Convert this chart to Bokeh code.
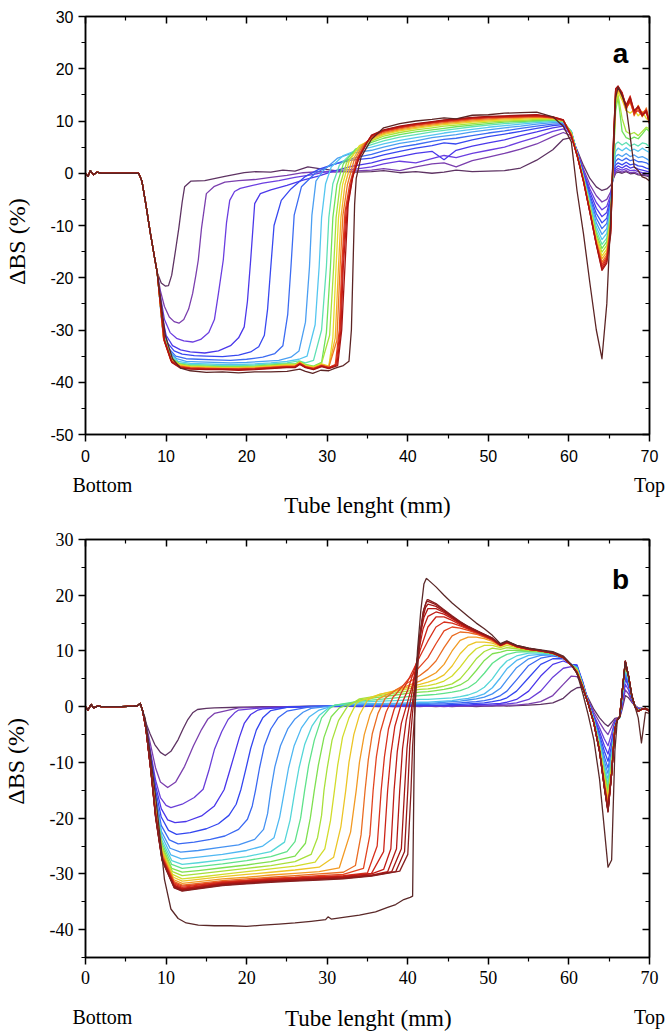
import math
from bokeh.plotting import figure
from bokeh.layouts import column
from bokeh.models import Range1d, FixedTicker, LinearAxis, Label
from bokeh.embed import file_html
from bokeh.resources import INLINE

# ---------------- common axis values ----------------
X_TICKS = [0, 10, 20, 30, 40, 50, 60, 70]
X_MINOR = [5, 15, 25, 35, 45, 55, 65]
A_Y_TICKS = [-50, -40, -30, -20, -10, 0, 10, 20, 30]
A_Y_MINOR = [-45, -35, -25, -15, -5, 5, 15, 25]
B_Y_TICKS = [-40, -30, -20, -10, 0, 10, 20, 30]
B_Y_MINOR = [-45, -35, -25, -15, -5, 5, 15, 25]
END_TEXT_POS = [2.1, 70]
END_TEXT = ["Bottom", "Top"]
X_TITLE_POS = 35.1
X_TITLE = "Tube lenght (mm)"
Y_TITLE = "ΔBS (%)"

# ---------------- panel a ----------------
A_COLORS = ["#5e3363", "#7b3fae", "#6b3ee0", "#4b38ea", "#3848f0", "#3d6cf2", "#4b9ff2",
            "#55c6f0", "#5fe0b5", "#6fe25a", "#a8e33a", "#e6dc2a", "#f2b127", "#ee7a22",
            "#e2421e", "#d52a1a", "#c41c16", "#a81412", "#5c2424"]

A_START_X = [0, 0.3, 0.6, 1.0, 1.4, 2.0, 3.0, 4.5, 6.0, 6.6, 7.0, 7.5, 8.0, 8.5, 8.9]
A_START_Y = [0, -0.6, 0.5, -0.3, 0.2, 0, 0, 0, 0, 0, -1.5, -6.0, -11.0, -15.5, -19.0]

A_LOW_X = [
    [9.4, 9.9, 10.3, 10.7, 11.2, 11.6, 12.0, 12.3, 13.1, 14.8, 17.3, 19.7, 21.1, 23.0, 24.5, 26.0, 27.6, 29.0, 30.5, 32.0, 33.5],
    [9.3, 9.8, 10.4, 11.0, 11.6, 12.2, 12.8, 13.3, 13.7, 14.0, 14.4, 15.0, 16.0, 17.3, 19.0, 21.0, 23.0, 25.0, 27.0, 29.0, 31.0, 33.0],
    [9.3, 9.8, 10.5, 11.3, 12.2, 13.3, 14.3, 15.3, 16.0, 16.5, 17.1, 17.5, 17.9, 18.5, 19.2, 20.5, 22.0, 24.0, 26.0, 28.0, 30.0, 32.0, 33.5],
    [9.4, 10.0, 10.8, 11.8, 13.0, 14.8, 16.5, 18.0, 19.0, 19.7, 20.1, 20.5, 21.0, 21.7, 23.0, 25.0, 27.0, 29.0, 31.0, 33.0],
    [9.5, 10.2, 11.0, 12.0, 13.5, 15.0, 17.0, 19.0, 20.5, 21.5, 22.2, 22.6, 23.0, 23.4, 24.3, 25.5, 27.2, 29.0, 31.0, 33.0],
    [9.5, 10.3, 11.2, 12.5, 14.0, 16.0, 18.0, 20.0, 22.0, 23.5, 24.5, 25.1, 25.5, 25.9, 26.8, 28.5, 30.0, 32.0, 33.5],
    [9.6, 10.4, 11.3, 12.5, 14.0, 16.0, 18.0, 20.0, 22.0, 24.0, 25.5, 26.5, 27.3, 27.8, 28.1, 28.6, 29.5, 31.3, 33.0],
    [9.6, 10.5, 11.5, 13.0, 15.0, 17.0, 19.0, 21.0, 23.0, 25.0, 26.5, 27.5, 28.5, 29.0, 29.3, 29.8, 30.5, 32.0, 33.5],
    [9.7, 10.6, 11.6, 13.0, 15.0, 17.0, 19.0, 21.0, 23.0, 25.0, 26.5, 27.3, 28.3, 29.3, 29.9, 30.2, 30.7, 31.5, 33.0, 34.0],
    [9.7, 10.6, 11.7, 13.0, 15.0, 17.0, 19.0, 21.0, 23.0, 25.0, 26.0, 26.6, 27.3, 28.3, 29.3, 29.9, 30.4, 30.7, 31.2, 32.0, 33.5],
    [9.7, 10.6, 11.7, 13.0, 15.0, 17.0, 19.0, 21.0, 23.0, 25.0, 26.0, 26.6, 27.3, 28.3, 29.3, 30.3, 30.8, 31.1, 31.6, 32.4, 34.0],
    [9.7, 10.6, 11.7, 13.0, 15.0, 17.0, 19.0, 21.0, 23.0, 25.0, 26.0, 26.6, 27.3, 28.3, 29.3, 30.2, 30.7, 31.1, 31.4, 31.9, 32.7, 34.0],
    [9.7, 10.6, 11.7, 13.0, 15.0, 17.0, 19.0, 21.0, 23.0, 25.0, 26.0, 26.6, 27.3, 28.3, 29.3, 30.2, 31.0, 31.4, 31.7, 32.2, 33.0, 34.3],
    [9.7, 10.6, 11.7, 13.0, 15.0, 17.0, 19.0, 21.0, 23.0, 25.0, 26.0, 26.6, 27.3, 28.3, 29.3, 30.2, 31.2, 31.6, 31.95, 32.5, 33.3, 34.5],
    [9.7, 10.6, 11.7, 13.0, 15.0, 17.0, 19.0, 21.0, 23.0, 25.0, 26.0, 26.6, 27.3, 28.3, 29.3, 30.2, 31.0, 31.5, 31.8, 32.2, 32.8, 33.6, 34.7],
    [9.8, 10.7, 11.8, 13.0, 15.0, 17.0, 19.0, 21.0, 23.0, 25.0, 26.0, 26.6, 27.3, 28.3, 29.3, 30.2, 31.1, 31.6, 31.9, 32.35, 33.0, 33.8, 34.8],
    [9.8, 10.7, 11.8, 13.0, 15.0, 17.0, 19.0, 21.0, 23.0, 25.0, 26.0, 26.6, 27.3, 28.3, 29.3, 30.2, 31.2, 31.7, 32.0, 32.5, 33.1, 33.9, 34.9],
    [9.8, 10.7, 11.8, 13.0, 15.0, 17.0, 19.0, 21.0, 23.0, 25.0, 26.0, 26.6, 27.3, 28.3, 29.3, 30.2, 31.3, 31.8, 32.2, 32.6, 33.2, 34.0, 35.0],
    [9.9, 10.8, 11.8, 13.0, 15.0, 17.0, 19.0, 21.0, 23.0, 25.0, 26.6, 27.3, 28.2, 29.2, 30.2, 31.0, 32.0, 32.7, 33.0, 33.2, 33.4, 33.6, 34.2, 35.0],
]
A_LOW_Y = [
    [-21.0, -21.6, -21.5, -19.5, -14.5, -10.3, -5.5, -2.6, -1.5, -1.4, -0.6, 0.1, 0.3, 0.2, 0.6, 0.4, 1.2, 0.9, 0.6, 0.3, 0.2],
    [-22.5, -25.5, -27.5, -28.4, -28.7, -28.0, -26.0, -23.0, -19.5, -16.6, -10.5, -3.9, -2.5, -1.7, -1.4, -1.2, -0.8, -0.4, 0.1, 0.3, 0.2, 0.4],
    [-23.5, -28.0, -30.5, -31.6, -32.1, -32.3, -31.8, -30.5, -28.0, -23.0, -16.6, -9.5, -5.2, -3.5, -2.9, -2.4, -1.9, -1.4, -0.8, -0.3, 0.3, 0.6, 0.8],
    [-26.5, -31.0, -33.0, -33.8, -34.2, -34.4, -34.0, -33.0, -31.5, -29.4, -24.5, -16.6, -5.8, -3.9, -3.2, -2.3, -1.3, -0.5, 0.5, 1.3],
    [-28.5, -32.5, -34.0, -34.6, -34.9, -35.0, -35.1, -34.8, -34.2, -33.2, -31.0, -26.0, -17.9, -10.0, -5.2, -3.0, -0.7, 0.8, 1.8, 2.5],
    [-29.0, -33.5, -35.0, -35.5, -35.6, -35.7, -35.8, -35.6, -35.2, -34.5, -33.0, -27.0, -17.9, -8.0, -2.6, 0.0, 1.2, 2.3, 3.0],
    [-30.0, -34.0, -35.5, -36.0, -36.1, -36.2, -36.3, -36.2, -36.0, -35.8, -35.2, -34.0, -28.5, -17.9, -8.0, -1.5, 0.5, 2.9, 3.8],
    [-30.5, -34.5, -36.0, -36.4, -36.5, -36.6, -36.6, -36.5, -36.3, -36.0, -35.6, -35.0, -29.0, -17.9, -8.5, -2.0, 1.2, 3.4, 4.3],
    [-31.0, -35.0, -36.3, -36.6, -36.7, -36.8, -36.8, -36.7, -36.5, -36.3, -35.9, -36.3, -35.8, -30.0, -17.9, -8.5, -2.0, 1.5, 3.8, 4.7],
    [-31.2, -35.3, -36.5, -36.8, -36.9, -37.0, -37.0, -36.9, -36.7, -36.5, -36.5, -36.0, -36.6, -36.9, -36.2, -30.5, -17.9, -8.5, -2.2, 1.8, 4.6],
    [-31.4, -35.5, -36.6, -36.9, -37.0, -37.1, -37.1, -37.0, -36.8, -36.6, -36.6, -36.1, -36.7, -37.0, -36.4, -31.0, -17.9, -8.5, -2.2, 2.0, 5.2],
    [-31.5, -35.6, -36.7, -37.0, -37.1, -37.2, -37.2, -37.1, -36.9, -36.7, -36.7, -36.2, -36.8, -37.1, -36.5, -36.9, -31.5, -17.9, -8.5, -2.2, 2.2, 5.3],
    [-31.6, -35.7, -36.8, -37.1, -37.2, -37.3, -37.3, -37.2, -37.0, -36.8, -36.8, -36.3, -36.9, -37.2, -36.6, -37.0, -31.5, -17.9, -8.5, -2.2, 2.2, 5.4],
    [-31.7, -35.8, -36.9, -37.2, -37.3, -37.4, -37.4, -37.3, -37.1, -36.9, -36.9, -36.3, -37.0, -37.3, -36.7, -37.1, -32.0, -17.9, -8.0, -2.2, 2.3, 5.5],
    [-31.8, -35.9, -37.0, -37.3, -37.4, -37.4, -37.5, -37.4, -37.2, -37.0, -37.0, -36.4, -37.0, -37.4, -36.8, -37.2, -36.6, -30.0, -17.9, -7.5, -2.0, 2.5, 5.6],
    [-31.9, -36.0, -37.1, -37.3, -37.4, -37.5, -37.5, -37.4, -37.2, -37.0, -37.0, -36.4, -37.1, -37.4, -36.8, -37.2, -36.6, -30.0, -17.9, -7.0, -1.5, 2.8, 5.7],
    [-32.0, -36.1, -37.2, -37.4, -37.5, -37.5, -37.6, -37.5, -37.3, -37.1, -37.1, -36.5, -37.1, -37.5, -36.9, -37.3, -36.7, -30.0, -17.9, -6.5, -1.0, 2.9, 5.8],
    [-32.1, -36.2, -37.3, -37.5, -37.6, -37.6, -37.7, -37.6, -37.4, -37.2, -37.2, -36.6, -37.2, -37.6, -37.0, -37.4, -36.8, -30.0, -17.9, -6.0, -0.5, 3.1, 6.0],
    [-31.0, -35.5, -37.3, -37.8, -38.1, -38.0, -38.2, -38.0, -38.0, -37.9, -37.5, -37.9, -38.3, -37.7, -37.8, -37.3, -36.8, -36.0, -30.0, -18.0, -6.0, -1.0, 3.1, 5.2],
]

A_UP_X = [35.5, 37, 39, 41, 43, 44.5, 46, 48, 50, 52, 54, 56, 58, 59.3]
A_UP_Y = [
    [0.3, 0.5, 0.1, 0.3, 0.0, 0.2, 0.6, 0.3, 0.4, 0.5, 1.0, 2.5, 4.5, 6.5],
    [0.6, 0.9, 0.5, 1.2, 1.8, 2.0, 1.2, 2.4, 3.1, 3.8, 4.6, 5.6, 7.0, 7.8],
    [1.2, 1.8, 2.3, 2.0, 2.8, 3.4, 3.0, 3.8, 4.4, 5.0, 6.0, 6.9, 8.0, 8.5],
    [2.0, 2.6, 3.2, 3.8, 4.2, 2.6, 4.4, 5.2, 5.8, 6.4, 7.2, 7.9, 8.7, 9.0],
    [2.9, 3.5, 4.2, 4.8, 5.3, 5.8, 5.6, 6.4, 7.0, 7.5, 8.0, 8.6, 9.1, 9.3],
    [3.6, 4.3, 5.0, 5.5, 6.1, 6.5, 6.7, 7.2, 7.7, 8.1, 8.6, 9.0, 9.4, 9.5],
    [4.4, 5.0, 5.7, 6.2, 6.8, 7.1, 7.4, 7.9, 8.3, 8.7, 9.0, 9.4, 9.7, 9.7],
    [5.0, 5.6, 6.3, 6.8, 7.3, 7.7, 8.0, 8.4, 8.8, 9.1, 9.4, 9.7, 9.9, 9.8],
    [5.5, 6.2, 6.9, 7.4, 7.9, 8.2, 8.5, 8.9, 9.2, 9.5, 9.7, 9.9, 10.1, 9.9],
    [5.9, 6.7, 7.4, 7.9, 8.3, 8.6, 8.9, 9.2, 9.5, 9.8, 9.9, 10.1, 10.2, 10.0],
    [6.2, 7.1, 7.8, 8.3, 8.7, 9.0, 9.2, 9.5, 9.8, 10.0, 10.1, 10.3, 10.3, 10.0],
    [6.4, 7.4, 8.1, 8.6, 9.0, 9.3, 9.5, 9.8, 10.0, 10.2, 10.3, 10.5, 10.4, 10.1],
    [6.6, 7.6, 8.3, 8.8, 9.2, 9.5, 9.7, 10.0, 10.2, 10.4, 10.5, 10.7, 10.5, 10.1],
    [6.8, 7.8, 8.5, 9.0, 9.4, 9.7, 9.9, 10.2, 10.4, 10.6, 10.7, 10.8, 10.6, 10.1],
    [7.0, 8.0, 8.7, 9.2, 9.6, 9.9, 10.1, 10.4, 10.6, 10.7, 10.8, 10.9, 10.6, 10.1],
    [7.1, 8.1, 8.8, 9.3, 9.7, 10.0, 10.2, 10.5, 10.7, 10.8, 10.9, 11.0, 10.7, 10.1],
    [7.2, 8.2, 8.9, 9.4, 9.8, 10.1, 10.3, 10.6, 10.8, 10.9, 11.0, 11.1, 10.8, 10.2],
    [7.3, 8.3, 9.0, 9.5, 9.9, 10.2, 10.4, 10.7, 10.9, 11.0, 11.1, 11.2, 10.8, 10.2],
    [6.5, 8.7, 9.5, 10.0, 10.3, 10.6, 10.4, 11.1, 11.2, 11.5, 11.6, 11.7, 10.8, 9.0],
]

A_RIGHT_X = [60.3, 61.0, 61.8, 62.6, 63.4, 64.1, 64.7, 65.2, 65.5, 65.8, 66.1, 66.6, 67.1, 67.6, 68.1, 68.6, 69.1, 69.6, 70.0]
A_RIGHT_Y = [
    [6.8, 4.5, 1.5, -1.0, -2.6, -3.3, -3.0, -2.3, -1.1, 0.0, 0.2, 0.0, 0.3, -0.1, 0.0, -0.3, -0.4, -0.5, -0.7],
    [7.2, 4.3, 0.8, -2.2, -4.3, -5.5, -5.0, -3.5, -1.0, 0.3, 0.5, 0.2, 0.5, 0.1, 0.2, -0.1, -0.2, -0.3, -0.5],
    [7.6, 4.2, 0.4, -3.0, -5.6, -7.0, -6.3, -4.0, -0.5, 0.6, 0.9, 0.6, 0.9, 0.5, 0.6, 0.3, 0.1, 0.0, -0.2],
    [7.8, 4.1, 0.1, -3.6, -6.7, -8.3, -7.5, -4.5, 0.0, 1.0, 1.4, 1.0, 1.5, 1.0, 1.2, 0.8, 0.6, 0.4, 0.2],
    [7.9, 4.0, -0.2, -4.2, -7.7, -9.5, -8.6, -5.0, 0.3, 1.6, 2.0, 1.6, 2.1, 1.6, 1.8, 1.4, 1.3, 1.0, 0.8],
    [8.0, 3.9, -0.4, -4.7, -8.6, -10.6, -9.6, -5.5, 0.5, 2.3, 2.8, 2.4, 2.9, 2.4, 2.6, 2.2, 2.2, 2.0, 1.6],
    [8.0, 3.8, -0.6, -5.2, -9.5, -11.7, -10.6, -6.0, 0.8, 3.2, 3.6, 3.2, 3.8, 3.2, 3.5, 3.0, 3.2, 2.8, 2.4],
    [8.0, 3.8, -0.7, -5.6, -10.3, -12.7, -11.5, -6.5, 1.0, 4.2, 4.8, 4.3, 4.9, 4.3, 4.6, 4.2, 4.8, 4.3, 4.0],
    [7.9, 3.7, -0.8, -6.0, -11.0, -13.6, -12.4, -7.0, 1.3, 5.6, 6.0, 5.4, 5.9, 5.2, 5.6, 5.2, 5.8, 5.6, 5.0],
    [7.8, 3.7, -0.9, -6.3, -11.6, -14.4, -13.1, -7.5, 1.6, 12.0, 14.5, 8.0, 6.8, 6.5, 6.9, 6.6, 7.5, 8.5, 8.0],
    [7.7, 3.6, -1.0, -6.6, -12.1, -15.1, -13.8, -8.0, 2.0, 13.0, 15.0, 10.5, 8.0, 7.5, 7.8, 7.2, 8.0, 8.8, 8.5],
    [7.6, 3.6, -1.1, -6.8, -12.5, -15.8, -14.5, -8.5, 2.5, 14.0, 15.5, 14.0, 12.0, 11.5, 12.2, 11.0, 11.8, 10.5, 10.0],
    [7.5, 3.5, -1.2, -7.0, -12.9, -16.4, -15.1, -9.0, 3.0, 14.5, 16.0, 14.5, 12.5, 13.5, 11.5, 12.5, 11.0, 11.8, 10.2],
    [7.4, 3.5, -1.3, -7.2, -13.2, -17.0, -15.6, -9.5, 3.5, 15.0, 16.2, 15.0, 12.0, 14.5, 11.0, 13.0, 10.8, 12.5, 9.8],
    [7.3, 3.5, -1.4, -7.3, -13.4, -17.5, -16.0, -10.0, 4.0, 15.5, 16.4, 15.2, 12.5, 13.8, 11.2, 12.8, 11.5, 12.2, 9.5],
    [7.2, 3.5, -1.5, -7.4, -13.5, -17.9, -16.4, -10.5, 4.5, 16.0, 16.5, 15.0, 13.0, 14.8, 11.5, 12.0, 11.0, 12.0, 9.8],
    [7.1, 3.5, -1.5, -7.5, -13.6, -18.3, -16.8, -11.0, 5.0, 16.0, 16.6, 15.5, 12.5, 14.0, 11.8, 12.6, 11.3, 11.6, 9.6],
    [7.0, 3.5, -1.5, -7.5, -13.7, -18.6, -17.2, -11.5, 5.5, 16.2, 16.7, 15.2, 13.0, 14.5, 12.0, 12.8, 11.0, 12.0, 9.5],
    [6.0, -3.3, -11.5, -21.0, -30.0, -35.5, -25.0, -8.0, 3.0, 14.5, 16.5, 14.8, 12.7, 7.0, 1.2, 0.5, -0.7, -1.0, -1.5],
]

# ---------------- panel b ----------------
B_COLORS = ["#5e3363", "#7b3fae", "#6a3fd8", "#4a36ea", "#3346f0", "#3a68f2", "#4592f2",
            "#4fb8f2", "#55d6d8", "#5fe28a", "#7fe050", "#a8e03a", "#d2dc2c", "#ecc526",
            "#f29a24", "#ea6c22", "#e24420", "#d8301c", "#cc2418", "#c01c16", "#b21814",
            "#a41614", "#961818", "#862020", "#5a2828"]

B_START_X = [0, 0.3, 0.7, 1.0, 1.5, 2.0, 3.0, 4.5, 6.0, 6.5, 6.8, 7.1]
B_START_Y = [0, -0.6, 0.4, -0.2, 0.1, 0.0, 0.0, 0.0, 0.1, 0.2, 0.6, -0.8]

B_LOW_X = [
    [7.4, 8.0, 8.6, 9.3, 9.9, 10.6, 11.5, 12.1, 12.7, 13.3, 13.9, 15.0],
    [7.5, 8.1, 8.7, 9.3, 10.2, 11.2, 12.3, 13.4, 14.4, 15.2],
    [7.5, 8.1, 8.7, 9.3, 10.0, 10.6, 12.0, 13.5, 14.6, 15.3, 16.0, 16.9, 17.7, 18.5],
    [7.5, 8.1, 8.7, 9.4, 10.2, 11.1, 12.5, 14.4, 16.0, 17.2, 17.9, 18.5, 19.1, 19.7, 20.5, 21.4],
    [7.5, 8.1, 8.7, 9.4, 10.3, 11.3, 13.0, 15.0, 16.5, 17.8, 18.7, 19.3, 19.9, 20.5, 21.2, 22.0, 23.0],
    [7.5, 8.1, 8.7, 9.4, 10.4, 11.5, 13.5, 15.5, 17.3, 19.0, 20.1, 20.7, 21.1, 21.6, 22.2, 23.0, 23.9, 25.0],
    [7.5, 8.1, 8.7, 9.4, 10.5, 11.8, 14.0, 16.5, 19.0, 21.0, 22.1, 22.6, 23.0, 23.5, 24.2, 25.1, 26.0, 27.0],
    [7.5, 8.1, 8.7, 9.5, 10.6, 11.9, 14.0, 17.0, 20.0, 22.0, 23.4, 24.1, 24.7, 25.2, 25.9, 26.8, 27.8, 29.0],
    [7.5, 8.1, 8.7, 9.5, 10.7, 12.0, 14.0, 17.0, 20.0, 23.0, 24.7, 25.4, 26.0, 26.5, 27.2, 28.1, 29.0, 30.2],
    [7.5, 8.1, 8.7, 9.5, 10.7, 12.0, 14.0, 17.0, 20.0, 23.0, 25.0, 26.0, 26.7, 27.2, 27.7, 28.4, 29.3, 30.3],
    [7.5, 8.1, 8.7, 9.5, 10.7, 12.0, 14.0, 17.0, 20.0, 23.0, 26.0, 27.3, 27.9, 28.4, 28.9, 29.6, 30.5, 31.5],
    [7.5, 8.1, 8.7, 9.5, 10.8, 12.0, 14.0, 17.0, 20.0, 23.0, 26.0, 28.0, 28.8, 29.3, 29.6, 30.0, 30.6, 31.4, 32.5],
    [7.5, 8.1, 8.7, 9.5, 10.8, 12.0, 14.0, 17.0, 20.0, 23.0, 26.0, 28.5, 29.7, 30.4, 30.9, 31.3, 31.9, 32.7, 33.6],
    [7.5, 8.1, 8.7, 9.5, 10.9, 12.0, 14.0, 17.0, 20.0, 23.0, 26.0, 29.0, 30.8, 31.7, 32.3, 32.7, 33.3, 34.0, 35.0],
    [7.5, 8.1, 8.7, 9.5, 10.9, 12.0, 14.0, 17.0, 20.0, 23.0, 26.0, 29.0, 31.5, 32.9, 33.6, 34.0, 34.6, 35.3, 36.2],
    [7.5, 8.1, 8.7, 9.5, 11.0, 12.0, 14.0, 17.0, 20.0, 23.0, 26.0, 29.0, 32.0, 33.5, 34.2, 34.7, 35.1, 35.6, 36.3, 37.2],
    [7.5, 8.1, 8.7, 9.5, 11.0, 12.0, 14.0, 17.0, 20.0, 23.0, 26.0, 29.0, 32.0, 34.5, 35.3, 35.7, 36.1, 36.6, 37.3, 38.2],
    [7.5, 8.1, 8.7, 9.5, 11.0, 12.0, 14.0, 17.0, 20.0, 23.0, 26.0, 29.0, 32.0, 35.0, 36.2, 36.7, 37.1, 37.6, 38.3, 39.2],
    [7.5, 8.1, 8.7, 9.5, 11.0, 12.0, 14.0, 17.0, 20.0, 23.0, 26.0, 29.0, 32.0, 35.5, 37.0, 37.5, 37.9, 38.4, 39.1, 40.0, 41.0],
    [7.5, 8.1, 8.7, 9.5, 11.0, 12.0, 14.0, 17.0, 20.0, 23.0, 26.0, 29.0, 32.0, 35.5, 37.0, 37.9, 38.3, 38.7, 39.2, 39.9, 40.6, 41.3, 41.9],
    [7.5, 8.1, 8.7, 9.5, 11.0, 12.0, 14.0, 17.0, 20.0, 23.0, 26.0, 29.0, 32.0, 35.5, 37.5, 38.6, 39.0, 39.35, 39.8, 40.4, 41.0, 41.5, 42.0],
    [7.5, 8.1, 8.7, 9.5, 11.0, 12.0, 14.0, 17.0, 20.0, 23.0, 26.0, 29.0, 32.0, 35.5, 38.0, 39.2, 39.6, 39.9, 40.3, 40.8, 41.3, 41.8, 42.2],
    [7.5, 8.1, 8.7, 9.5, 11.0, 12.0, 14.0, 17.0, 20.0, 23.0, 26.0, 29.0, 32.0, 35.5, 38.5, 39.6, 40.0, 40.25, 40.6, 41.0, 41.4, 41.9, 42.3],
    [7.5, 8.1, 8.7, 9.5, 11.0, 12.0, 14.0, 17.0, 20.0, 23.0, 26.0, 29.0, 32.0, 35.5, 39.0, 40.0, 40.4, 40.6, 40.9, 41.2, 41.6, 42.0, 42.4],
    [7.4, 8.0, 8.7, 9.3, 9.8, 10.6, 11.5, 12.5, 14.0, 16.0, 18.0, 20.0, 22.0, 24.0, 26.0, 28.0, 29.8, 30.1, 30.5, 32.0, 34.0, 36.0, 37.5, 38.5, 39.5, 40.3, 40.6, 40.75, 40.9, 41.2, 41.6, 42.0, 42.3],
]
B_LOW_Y = [
    [-2.5, -4.8, -6.8, -8.2, -8.75, -8.0, -5.9, -4.0, -2.3, -1.1, -0.5, -0.3],
    [-3.0, -7.0, -11.0, -13.5, -14.5, -13.5, -10.7, -7.0, -4.1, -2.2],
    [-3.3, -8.3, -13.2, -16.3, -17.7, -18.1, -17.5, -16.3, -14.8, -11.5, -7.7, -4.5, -2.3, -1.1],
    [-3.4, -8.8, -14.2, -18.3, -20.3, -20.8, -20.6, -19.6, -17.8, -14.9, -11.5, -8.5, -5.5, -3.0, -1.4, -0.6],
    [-3.5, -9.2, -15.0, -19.8, -22.2, -22.9, -22.6, -21.9, -21.0, -19.5, -17.5, -14.8, -11.2, -7.5, -4.2, -2.0, -0.7],
    [-3.6, -9.6, -16.0, -21.3, -23.9, -24.6, -24.3, -23.8, -23.2, -22.0, -20.2, -17.8, -15.0, -11.0, -7.0, -4.0, -2.0, -0.8],
    [-3.6, -9.9, -16.5, -22.3, -25.4, -26.1, -25.8, -25.3, -24.8, -23.8, -22.0, -19.2, -15.0, -10.8, -7.0, -4.0, -2.2, -1.0],
    [-3.7, -10.1, -17.0, -23.3, -26.6, -27.3, -27.0, -26.5, -25.8, -25.0, -23.5, -19.8, -15.0, -11.0, -7.0, -3.8, -1.8, -0.6],
    [-3.7, -10.3, -17.4, -24.0, -27.6, -28.3, -28.0, -27.5, -26.9, -26.0, -24.3, -20.3, -15.0, -11.0, -6.8, -3.5, -1.6, -0.2],
    [-3.7, -10.4, -17.7, -24.5, -28.3, -29.0, -28.7, -28.2, -27.6, -26.9, -26.0, -24.2, -20.0, -15.0, -10.5, -6.0, -2.0, -0.3],
    [-3.8, -10.5, -18.0, -25.0, -29.0, -29.7, -29.4, -28.9, -28.4, -27.8, -26.8, -24.5, -20.0, -15.0, -10.5, -5.5, -1.8, -0.2],
    [-3.8, -10.6, -18.2, -25.4, -29.6, -30.3, -30.0, -29.5, -29.0, -28.5, -27.8, -26.5, -23.5, -19.5, -15.0, -11.0, -6.0, -2.5, 0.0],
    [-3.8, -10.7, -18.4, -25.7, -30.1, -30.9, -30.6, -30.1, -29.6, -29.1, -28.6, -27.9, -25.5, -20.5, -15.0, -10.5, -5.5, -2.0, 0.6],
    [-3.8, -10.8, -18.6, -26.0, -30.6, -31.3, -31.0, -30.5, -30.1, -29.7, -29.3, -28.8, -27.0, -21.5, -15.0, -10.0, -5.0, -1.5, 1.2],
    [-3.9, -10.9, -18.8, -26.3, -31.0, -31.7, -31.4, -30.9, -30.6, -30.2, -29.9, -29.6, -28.9, -22.5, -15.0, -10.0, -5.0, -1.5, 1.2],
    [-3.9, -11.0, -19.0, -26.6, -31.4, -32.0, -31.7, -31.2, -30.9, -30.6, -30.3, -30.0, -29.7, -28.5, -23.0, -15.0, -9.5, -4.8, -1.2, 1.5],
    [-3.9, -11.0, -19.2, -26.8, -31.6, -32.2, -31.9, -31.4, -31.1, -30.8, -30.6, -30.3, -30.1, -29.0, -23.0, -15.0, -9.0, -4.5, -1.0, 1.8],
    [-4.0, -11.1, -19.3, -27.0, -31.8, -32.4, -32.0, -31.5, -31.2, -30.9, -30.7, -30.5, -30.3, -29.8, -25.0, -15.0, -9.0, -4.0, -0.5, 2.5],
    [-4.0, -11.2, -19.4, -27.1, -32.0, -32.6, -32.2, -31.6, -31.3, -31.0, -30.8, -30.6, -30.4, -29.9, -26.0, -15.0, -8.5, -3.5, 0.0, 3.0, 7.5],
    [-4.0, -11.2, -19.5, -27.2, -32.1, -32.7, -32.3, -31.7, -31.4, -31.1, -30.9, -30.7, -30.5, -30.0, -29.2, -25.5, -15.0, -8.0, -3.0, 0.5, 4.0, 9.5, 14.0],
    [-4.0, -11.3, -19.6, -27.3, -32.2, -32.8, -32.4, -31.8, -31.5, -31.2, -31.0, -30.8, -30.6, -30.2, -29.6, -25.5, -15.0, -7.5, -2.5, 1.5, 6.5, 12.5, 16.0],
    [-4.0, -11.3, -19.7, -27.4, -32.3, -32.9, -32.5, -31.9, -31.6, -31.3, -31.1, -30.9, -30.7, -30.3, -29.6, -25.5, -15.0, -7.5, -2.0, 3.0, 10.0, 15.5, 17.8],
    [-4.0, -11.3, -19.8, -27.5, -32.4, -33.0, -32.6, -32.0, -31.7, -31.4, -31.2, -31.0, -30.8, -30.3, -29.6, -26.0, -15.0, -7.0, -1.0, 5.0, 12.0, 17.0, 18.8],
    [-4.0, -11.4, -19.9, -27.6, -32.5, -33.1, -32.7, -32.1, -31.8, -31.5, -31.3, -31.1, -30.9, -30.4, -29.5, -26.5, -15.0, -7.0, 0.0, 6.5, 13.5, 17.5, 19.2],
    [-2.0, -8.0, -16.0, -24.0, -31.0, -36.3, -38.0, -38.8, -39.2, -39.3, -39.3, -39.4, -39.2, -39.0, -38.8, -38.5, -38.2, -37.7, -38.1, -37.8, -37.4, -36.8, -36.0, -35.5, -34.6, -34.2, -34.0, -15.0, 2.0, 10.0, 17.0, 22.0, 23.0],
]

B_MID_X = [16, 19, 22, 25, 28, 31, 34, 36.5, 38.5, 40.0, 41.5]
N = None
B_MID_Y = [
    [-0.2, -0.1, 0.0, 0.0, 0.1, 0.0, 0.1, 0.0, 0.1, 0.0, 0.1],
    [-1.2, -0.2, -0.1, 0.0, 0.0, 0.1, 0.0, 0.1, 0.0, 0.1, 0.0],
    [N, -0.6, -0.2, -0.1, 0.0, 0.1, 0.1, 0.1, 0.0, 0.1, 0.1],
    [N, N, -0.4, -0.1, 0.0, 0.1, 0.1, 0.1, 0.1, 0.2, 0.2],
    [N, N, N, -0.1, 0.1, 0.1, 0.2, 0.2, 0.2, 0.3, 0.3],
    [N, N, N, N, 0.0, 0.2, 0.2, 0.3, 0.3, 0.4, 0.4],
    [N, N, N, N, -0.3, 0.2, 0.4, 0.4, 0.5, 0.5, 0.6],
    [N, N, N, N, N, 0.3, 0.5, 0.6, 0.6, 0.7, 0.8],
    [N, N, N, N, N, 0.3, 0.8, 1.0, 1.1, 1.2, 1.3],
    [N, N, N, N, N, 0.3, 1.0, 1.3, 1.6, 1.8, 2.0],
    [N, N, N, N, N, N, 1.2, 1.7, 2.1, 2.4, 2.6],
    [N, N, N, N, N, N, 1.4, 2.0, 2.5, 2.8, 3.1],
    [N, N, N, N, N, N, 1.0, 2.2, 2.8, 3.2, 3.6],
    [N, N, N, N, N, N, N, 2.2, 2.9, 3.5, 4.0],
    [N, N, N, N, N, N, N, 1.5, 3.0, 3.8, 4.6],
    [N, N, N, N, N, N, N, N, 3.0, 4.3, 5.6],
    [N, N, N, N, N, N, N, N, 2.2, 4.8, 7.2],
    [N, N, N, N, N, N, N, N, N, 4.6, 9.0],
    [N, N, N, N, N, N, N, N, N, N, 10.0],
    [N, N, N, N, N, N, N, N, N, N, N],
    [N, N, N, N, N, N, N, N, N, N, N],
    [N, N, N, N, N, N, N, N, N, N, N],
    [N, N, N, N, N, N, N, N, N, N, N],
    [N, N, N, N, N, N, N, N, N, N, N],
    [N, N, N, N, N, N, N, N, N, N, N],
]

B_UP_X = [42.5, 43.5, 44.5, 45.5, 46.5, 47.5, 48.5, 49.5, 50.5, 51.5, 52.3, 53.5, 55.0, 56.5, 58.0, 59.3, 60.3]
B_UP_Y = [
    [0.1, 0.0, 0.1, 0.0, 0.1, 0.1, 0.0, 0.1, 0.1, 0.2, 0.1, 0.2, 0.3, 0.4, 0.7, 1.5, 2.8],
    [0.1, 0.1, 0.0, 0.1, 0.1, 0.1, 0.2, 0.1, 0.2, 0.2, 0.3, 0.3, 0.5, 0.9, 2.0, 4.0, 5.5],
    [0.1, 0.1, 0.1, 0.1, 0.2, 0.2, 0.2, 0.3, 0.3, 0.4, 0.5, 0.7, 1.3, 2.8, 5.3, 6.9, 7.2],
    [0.2, 0.2, 0.2, 0.2, 0.3, 0.3, 0.4, 0.4, 0.5, 0.6, 0.8, 1.3, 2.8, 5.5, 7.6, 8.2, 7.6],
    [0.3, 0.3, 0.3, 0.4, 0.4, 0.5, 0.6, 0.7, 0.9, 1.2, 1.6, 2.8, 5.2, 7.6, 8.6, 8.6, 7.6],
    [0.4, 0.5, 0.5, 0.6, 0.7, 0.8, 0.9, 1.1, 1.4, 2.0, 2.8, 4.8, 7.4, 8.7, 9.1, 8.7, 7.5],
    [0.6, 0.7, 0.8, 0.9, 1.0, 1.2, 1.4, 1.7, 2.3, 3.3, 4.8, 7.0, 8.6, 9.2, 9.3, 8.8, 7.5],
    [0.8, 0.9, 1.0, 1.1, 1.3, 1.5, 1.8, 2.3, 3.4, 5.2, 6.8, 8.3, 9.2, 9.4, 9.4, 8.8, 7.5],
    [1.3, 1.4, 1.5, 1.6, 1.8, 2.1, 2.6, 3.5, 5.0, 7.0, 8.2, 9.1, 9.6, 9.6, 9.5, 8.8, 7.5],
    [2.1, 2.2, 2.4, 2.6, 2.9, 3.4, 4.4, 6.0, 7.8, 8.8, 9.4, 9.8, 9.9, 9.8, 9.5, 8.8, 7.5],
    [2.7, 2.9, 3.1, 3.4, 3.9, 4.8, 6.5, 8.3, 9.5, 9.8, 10.1, 10.1, 10.0, 9.9, 9.5, 8.8, 7.5],
    [3.2, 3.4, 3.7, 4.1, 5.0, 6.7, 8.6, 9.9, 10.5, 10.3, 10.6, 10.4, 10.1, 9.9, 9.6, 8.8, 7.5],
    [3.8, 4.1, 4.6, 5.5, 7.1, 9.0, 10.4, 11.0, 11.0, 10.6, 11.0, 10.6, 10.2, 10.0, 9.6, 8.8, 7.5],
    [4.4, 4.9, 5.7, 7.3, 9.5, 11.0, 11.6, 11.6, 11.4, 10.8, 11.3, 10.7, 10.3, 10.0, 9.6, 8.8, 7.5],
    [5.3, 6.1, 7.6, 10.0, 11.9, 12.5, 12.5, 12.2, 11.7, 10.9, 11.4, 10.8, 10.3, 10.0, 9.6, 8.8, 7.5],
    [6.7, 8.2, 10.6, 12.7, 13.4, 13.3, 13.0, 12.5, 11.9, 11.0, 11.5, 10.8, 10.3, 10.0, 9.6, 8.8, 7.5],
    [8.8, 11.3, 13.6, 14.3, 14.1, 13.7, 13.2, 12.6, 12.0, 11.0, 11.5, 10.8, 10.3, 10.0, 9.6, 8.8, 7.5],
    [11.8, 14.3, 15.2, 15.0, 14.5, 13.9, 13.3, 12.7, 12.0, 11.0, 11.5, 10.8, 10.3, 10.0, 9.6, 8.8, 7.5],
    [14.3, 16.1, 16.1, 15.5, 14.7, 14.0, 13.4, 12.8, 12.1, 11.0, 11.5, 10.8, 10.3, 10.0, 9.6, 8.8, 7.5],
    [16.2, 17.0, 16.6, 15.8, 14.9, 14.1, 13.5, 12.8, 12.1, 11.0, 11.6, 10.8, 10.3, 10.0, 9.6, 8.8, 7.5],
    [17.6, 17.6, 16.9, 16.0, 15.0, 14.2, 13.5, 12.9, 12.2, 11.1, 11.6, 10.9, 10.4, 10.0, 9.6, 8.8, 7.5],
    [18.4, 18.0, 17.1, 16.1, 15.1, 14.3, 13.6, 12.9, 12.2, 11.1, 11.6, 10.9, 10.4, 10.1, 9.7, 8.9, 7.5],
    [18.9, 18.3, 17.3, 16.2, 15.2, 14.4, 13.6, 13.0, 12.3, 11.1, 11.7, 10.9, 10.4, 10.1, 9.7, 8.9, 7.5],
    [19.2, 18.5, 17.4, 16.3, 15.3, 14.4, 13.7, 13.0, 12.3, 11.2, 11.7, 11.0, 10.5, 10.1, 9.7, 8.9, 7.5],
    [22.8, 21.5, 20.0, 18.6, 17.4, 16.2, 15.0, 14.0, 12.8, 11.3, 11.8, 11.0, 10.5, 10.2, 9.9, 9.1, 7.6],
]

B_RIGHT_X = [61.0, 61.7, 62.4, 63.1, 63.8, 64.4, 64.85, 65.3, 65.7, 66.0, 66.3, 66.6, 67.0, 67.4, 67.8, 68.2, 68.6, 69.0, 69.5, 70.0]
B_RIGHT_Y = [
    [3.4, 3.5, 1.5, -0.5, -2.0, -3.0, -3.5, -2.8, -2.1, -2.0, -2.0, -0.5, 2.0, 1.6, 0.8, 0.2, -0.2, -0.3, -0.5, -0.8],
    [5.4, 4.0, 1.2, -1.0, -2.8, -4.2, -5.0, -3.6, -2.3, -2.1, -1.9, 0.0, 3.0, 2.3, 1.0, 0.2, -0.3, -0.3, -0.5, -0.8],
    [7.0, 4.5, 1.0, -1.5, -3.8, -5.8, -7.0, -4.8, -2.6, -2.2, -1.9, 0.5, 4.0, 3.0, 1.2, 0.2, -0.4, -0.3, -0.4, -0.8],
    [7.5, 4.5, 0.9, -1.8, -4.5, -7.0, -8.5, -6.0, -2.9, -2.3, -1.9, 0.8, 5.0, 3.6, 1.4, 0.2, -0.5, -0.3, -0.4, -0.8],
    [7.4, 4.3, 0.8, -2.0, -5.1, -8.0, -9.8, -7.0, -3.1, -2.3, -1.9, 1.0, 5.5, 4.0, 1.5, 0.2, -0.5, -0.4, -0.4, -0.8],
    [7.2, 4.2, 0.8, -2.2, -5.6, -9.0, -11.0, -7.8, -3.3, -2.4, -1.9, 1.2, 6.0, 4.3, 1.6, 0.1, -0.6, -0.4, -0.4, -0.8],
    [7.1, 4.1, 0.7, -2.3, -6.0, -9.8, -12.0, -8.5, -3.4, -2.4, -1.9, 1.4, 6.4, 4.6, 1.7, 0.1, -0.6, -0.4, -0.4, -0.8],
    [7.0, 4.0, 0.7, -2.4, -6.4, -10.5, -13.0, -9.0, -3.5, -2.4, -1.9, 1.6, 6.8, 4.8, 1.8, 0.1, -0.6, -0.4, -0.4, -0.8],
    [6.9, 4.0, 0.6, -2.5, -6.7, -11.1, -13.8, -9.5, -3.6, -2.4, -1.9, 1.8, 7.1, 5.0, 1.8, 0.1, -0.7, -0.4, -0.3, -0.8],
    [6.8, 3.9, 0.6, -2.6, -7.0, -11.6, -14.5, -10.0, -3.7, -2.4, -1.9, 2.0, 7.4, 5.1, 1.9, 0.1, -0.7, -0.4, -0.3, -0.8],
    [6.7, 3.8, 0.6, -2.7, -7.2, -12.1, -15.2, -10.4, -3.8, -2.4, -1.9, 2.1, 7.6, 5.2, 1.9, 0.0, -0.7, -0.5, -0.3, -0.8],
    [6.6, 3.8, 0.6, -2.8, -7.4, -12.5, -15.8, -10.8, -3.8, -2.4, -1.8, 2.2, 7.7, 5.3, 1.9, 0.0, -0.7, -0.5, -0.3, -0.8],
    [6.5, 3.7, 0.5, -2.8, -7.5, -12.9, -16.3, -11.1, -3.9, -2.4, -1.8, 2.3, 7.8, 5.3, 2.0, 0.0, -0.8, -0.5, -0.3, -0.8],
    [6.4, 3.7, 0.5, -2.9, -7.6, -13.2, -16.8, -11.4, -3.9, -2.4, -1.8, 2.3, 7.9, 5.4, 2.0, 0.0, -0.8, -0.5, -0.3, -0.8],
    [6.4, 3.6, 0.5, -2.9, -7.7, -13.5, -17.2, -11.6, -4.0, -2.4, -1.8, 2.4, 8.0, 5.4, 2.0, 0.0, -0.8, -0.5, -0.3, -0.8],
    [6.3, 3.6, 0.5, -3.0, -7.8, -13.8, -17.6, -11.8, -4.0, -2.4, -1.8, 2.4, 8.0, 5.5, 2.0, 0.0, -0.8, -0.5, -0.3, -0.8],
    [6.2, 3.6, 0.5, -3.0, -7.9, -14.0, -17.9, -12.0, -4.0, -2.4, -1.8, 2.5, 8.1, 5.5, 2.0, 0.0, -0.8, -0.5, -0.3, -0.8],
    [6.2, 3.5, 0.5, -3.0, -8.0, -14.2, -18.1, -12.0, -4.0, -2.4, -1.8, 2.5, 8.1, 5.5, 2.0, 0.0, -0.8, -0.5, -0.3, -0.8],
    [6.1, 3.5, 0.5, -3.0, -8.0, -14.3, -18.3, -12.0, -4.0, -2.4, -1.8, 2.5, 8.1, 5.5, 2.0, 0.0, -0.8, -0.5, -0.3, -0.8],
    [6.1, 3.5, 0.5, -3.0, -8.0, -14.4, -18.5, -12.0, -4.0, -2.4, -1.8, 2.5, 8.1, 5.5, 2.0, 0.0, -0.8, -0.5, -0.3, -0.8],
    [6.0, 3.5, 0.5, -3.0, -8.0, -14.5, -18.6, -12.0, -4.0, -2.4, -1.8, 2.5, 8.1, 5.5, 2.0, 0.0, -0.8, -0.5, -0.3, -0.8],
    [6.0, 3.5, 0.5, -3.0, -8.0, -14.5, -18.7, -12.0, -4.0, -2.4, -1.8, 2.5, 8.1, 5.5, 2.0, 0.0, -0.8, -0.5, -0.3, -0.8],
    [6.0, 3.5, 0.5, -3.0, -8.0, -14.6, -18.8, -12.0, -4.0, -2.4, -1.8, 2.5, 8.2, 5.5, 2.0, 0.0, -0.8, -0.5, -0.3, -0.8],
    [6.0, 3.5, 0.5, -3.0, -8.0, -14.6, -18.9, -12.0, -4.0, -2.4, -1.8, 2.5, 8.2, 5.5, 2.0, 0.0, -0.8, -0.5, -0.3, -0.8],
    [6.0, 2.5, -1.5, -6.0, -13.0, -22.0, -28.8, -27.5, -8.0, -2.5, -1.8, 2.5, 8.0, 5.5, 2.0, 0.0, -2.0, -6.5, -1.0, -1.2],
]


# ---------------- helpers ----------------
def assemble(start_x, start_y, low_x, low_y, segments):
    xs = list(start_x) + list(low_x)
    ys = list(start_y) + list(low_y)
    for gx_list, gy_list in segments:
        for gx, gy in zip(gx_list, gy_list):
            if gy is None or gx <= xs[-1]:
                continue
            xs.append(gx)
            ys.append(gy)
    return xs, ys


def hyphen_labels(ticks):
    return {t: ("-" + str(abs(t)) if t < 0 else str(t)) for t in ticks}


def style_axis(ax, ticks, minor, inward, show, font, size, standoff):
    ax.ticker = FixedTicker(ticks=ticks, minor_ticks=minor)
    ax.axis_line_color = "black"
    ax.axis_line_width = 1.5
    ax.major_tick_line_color = "black"
    ax.major_tick_line_width = 1.5
    ax.minor_tick_line_color = "black"
    ax.minor_tick_line_width = 1.2
    if inward:
        ax.major_tick_in, ax.major_tick_out = 7, 0
        ax.minor_tick_in, ax.minor_tick_out = 4, 0
    else:
        ax.major_tick_in, ax.major_tick_out = 0, 7
        ax.minor_tick_in, ax.minor_tick_out = 0, 4
    if show:
        ax.major_label_text_font = font
        ax.major_label_text_font_size = size
        ax.major_label_text_color = "black"
        ax.major_label_standoff = standoff
        ax.major_label_overrides = hyphen_labels(ticks)
    else:
        ax.major_label_overrides = {t: "" for t in ticks}
        ax.major_label_standoff = 0


def text_axis(positions, texts, size, standoff, orientation="horizontal"):
    ax = LinearAxis(ticker=FixedTicker(ticks=positions, minor_ticks=[]))
    ax.major_label_overrides = dict(zip(positions, texts))
    ax.major_label_orientation = orientation
    ax.axis_line_color = None
    ax.major_tick_line_color = None
    ax.minor_tick_line_color = None
    ax.major_tick_in = 0
    ax.major_tick_out = 0
    ax.minor_tick_in = 0
    ax.minor_tick_out = 0
    ax.major_label_text_font = "Liberation Serif"
    ax.major_label_text_font_size = size
    ax.major_label_text_color = "black"
    ax.major_label_standoff = standoff
    return ax


def make_panel(height, border_top, border_bottom, ymin, yticks, yminor, tick_font, tick_size,
               x_standoff, letter, letter_y, ytitle_y):
    p = figure(width=665, height=height, x_range=Range1d(0, 70), y_range=Range1d(ymin, 30),
               output_backend="svg", toolbar_location=None,
               min_border_left=84, min_border_right=16,
               min_border_top=border_top, min_border_bottom=border_bottom)
    p.xgrid.visible = False
    p.ygrid.visible = False
    p.outline_line_color = "black"
    p.outline_line_width = 1.5
    p.background_fill_color = "white"
    p.border_fill_color = "white"

    style_axis(p.below[0], X_TICKS, X_MINOR, False, True, tick_font, tick_size, x_standoff)
    style_axis(p.left[0], yticks, yminor, False, True, tick_font, tick_size, 5)

    top = LinearAxis()
    right = LinearAxis()
    style_axis(top, X_TICKS, X_MINOR, True, False, tick_font, tick_size, 0)
    style_axis(right, yticks, yminor, True, False, tick_font, tick_size, 0)
    p.add_layout(top, "above")
    p.add_layout(right, "right")

    ytitle = text_axis([ytitle_y], [Y_TITLE], "24px", 17, orientation="parallel")
    p.add_layout(ytitle, "left")

    p.add_layout(Label(x=66.4, y=letter_y, text=letter, text_font="Liberation Sans",
                       text_font_style="bold", text_font_size="28px",
                       text_align="center", text_baseline="alphabetic", text_color="black"))
    return p


# ---------------- panel a ----------------
pa = make_panel(527, 16, 93, -50, A_Y_TICKS, A_Y_MINOR, "Liberation Sans", "16px", 8, "a", 22.9, -13.1)
ends_a = text_axis(END_TEXT_POS, END_TEXT, "20px", 9)
ends_a.axis_label = X_TITLE
ends_a.axis_label_text_font = "Liberation Serif"
ends_a.axis_label_text_font_size = "23px"
ends_a.axis_label_text_font_style = "normal"
ends_a.axis_label_text_color = "black"
ends_a.axis_label_standoff = -6
pa.add_layout(ends_a, "below")
for i, color in enumerate(A_COLORS):
    xs, ys = assemble(A_START_X, A_START_Y, A_LOW_X[i], A_LOW_Y[i],
                      [(A_UP_X, A_UP_Y[i]), (A_RIGHT_X, A_RIGHT_Y[i])])
    pa.line(xs, ys, line_color=color, line_width=1.3, line_join="round")

# ---------------- panel b ----------------
pb = make_panel(506, 12, 75, -45, B_Y_TICKS, B_Y_MINOR, "Liberation Serif", "18px", 6, "b", 22.9, -9.8)
ends_b = text_axis(END_TEXT_POS, END_TEXT, "20px", 19)
pb.add_layout(ends_b, "below")
title_b = text_axis([X_TITLE_POS], [X_TITLE], "23px", -25)
pb.add_layout(title_b, "below")
for i, color in enumerate(B_COLORS):
    xs, ys = assemble(B_START_X, B_START_Y, B_LOW_X[i], B_LOW_Y[i],
                      [(B_MID_X, B_MID_Y[i]), (B_UP_X, B_UP_Y[i]), (B_RIGHT_X, B_RIGHT_Y[i])])
    pb.line(xs, ys, line_color=color, line_width=1.3, line_join="round")

layout = column(pa, pb, spacing=0)
open("out.html", "w").write(file_html(layout, INLINE))
